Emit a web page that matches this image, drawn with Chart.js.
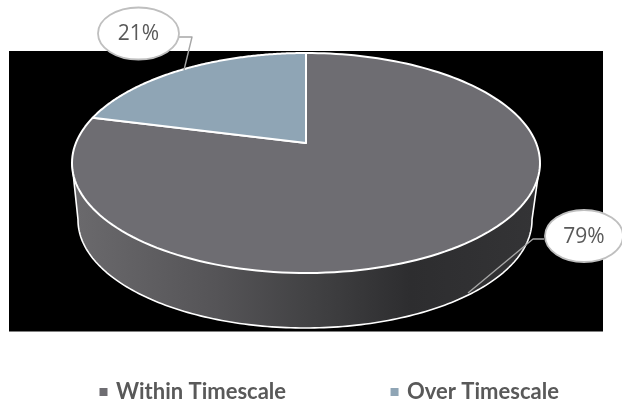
<!DOCTYPE html>
<html>
<head>
<meta charset="utf-8">
<title>Timescale</title>
<script src="https://cdn.jsdelivr.net/npm/chart.js@4"></script>
<style>
    html, body { margin: 0; padding: 0; background: #fff; overflow: hidden; }
    canvas { display: block; }
</style>
</head>
<body>
<canvas id="timescaleChart" width="622" height="401"></canvas>
<script>
const categories = ["Within Timescale", "Over Timescale"];
const percentages = [79, 21];
const sliceColors = ["#6e6d72", "#8fa5b5"];

// Disc outlines in canvas pixels. "mid" is where the disc centre lands, which
// is not halfway down because the pie is seen in perspective.
const topDisc = { cx: 306, top: 53, mid: 143, bottom: 273, halfWidth: 234 };
const bottomDisc = { cx: 305, top: 112, mid: 200, bottom: 328, halfWidth: 227 };

// Callout bubble and its leader line for each slice
const callouts = [
    { x: 584, y: 236, rx: 39, ry: 26, leader: [[544, 239], [533, 239], [468, 293]] },
    { x: 138.5, y: 33.5, rx: 40.5, ry: 26, leader: [[179, 37], [192, 37], [184, 70]] }
];

// Builds a function that takes a point on the unit circle to the canvas
function makeProjection(disc) {
    const c = (2 * disc.mid - disc.top - disc.bottom) / (disc.bottom - disc.top);
    const a = disc.bottom * (1 + c) - disc.mid;
    const k = disc.halfWidth * Math.sqrt(1 - c * c);
    return (angle) => {
        const u = Math.cos(angle);
        const v = Math.sin(angle);
        const w = c * v + 1;
        return { x: disc.cx + k * u / w, y: (a * v + disc.mid) / w };
    };
}

const projectTop = makeProjection(topDisc);
const projectBottom = makeProjection(bottomDisc);
const centre = { x: topDisc.cx, y: topDisc.mid };

// Angles where the silhouette of the disc turns, the wall only shows between them
const tilt = (topDisc.top + topDisc.bottom - 2 * topDisc.mid) / (topDisc.bottom - topDisc.top);
const wallFrom = Math.asin(tilt);
const wallTo = Math.PI - wallFrom;

function traceArc(ctx, project, from, to, moveFirst) {
    const steps = 160;
    for (let i = 0; i <= steps; i++) {
        const p = project(from + (to - from) * i / steps);
        if (i === 0 && moveFirst) ctx.moveTo(p.x, p.y);
        else ctx.lineTo(p.x, p.y);
    }
}

function drawWall(ctx, start, end) {
    const from = Math.max(start, wallFrom);
    const to = Math.min(end, wallTo);
    if (to <= from) return;

    const gradient = ctx.createLinearGradient(78, 0, 540, 0);
    gradient.addColorStop(0, "#6a696c");
    gradient.addColorStop(0.3, "#555457");
    gradient.addColorStop(0.5, "#424244");
    gradient.addColorStop(0.72, "#2d2d2f");
    gradient.addColorStop(1, "#343436");

    ctx.beginPath();
    traceArc(ctx, projectTop, from, to, true);
    traceArc(ctx, projectBottom, to, from, false);
    ctx.closePath();
    ctx.fillStyle = gradient;
    ctx.fill();
}

function drawSlice(ctx, from, to, color) {
    ctx.beginPath();
    ctx.moveTo(centre.x, centre.y);
    traceArc(ctx, projectTop, from, to, false);
    ctx.closePath();
    ctx.fillStyle = color;
    ctx.fill();
    ctx.strokeStyle = "#fff";
    ctx.lineWidth = 2;
    ctx.lineJoin = "round";
    ctx.stroke();
}

function drawCallout(ctx, callout, text) {
    ctx.beginPath();
    callout.leader.forEach(([x, y], i) => i === 0 ? ctx.moveTo(x, y) : ctx.lineTo(x, y));
    ctx.strokeStyle = "#a6a6a6";
    ctx.lineWidth = 1.4;
    ctx.stroke();

    ctx.beginPath();
    ctx.ellipse(callout.x, callout.y, callout.rx, callout.ry, 0, 0, Math.PI * 2);
    ctx.fillStyle = "#fff";
    ctx.fill();
    ctx.strokeStyle = "#bfbfbf";
    ctx.lineWidth = 1.8;
    ctx.stroke();

    ctx.fillStyle = "#595959";
    ctx.font = '21px "Open Sans"';
    ctx.textAlign = "center";
    ctx.textBaseline = "middle";
    ctx.fillText(text, callout.x, callout.y + 1);
}

// Replaces the flat pie drawing, using the angles Chart.js worked out for each arc
const perspectivePie = {
    id: "perspectivePie",
    afterLayout(chart) {
        // keep both legend items on one row, the wide gap would wrap them otherwise
        const padding = chart.options.plugins.legend.labels.padding;
        chart.legend.top = 381 - padding;
        chart.legend.left = 102 - padding;
        chart.legend.right = 2000;
    },
    beforeDatasetsDraw(chart) {
        const ctx = chart.ctx;
        const arcs = chart.getDatasetMeta(0).data;

        ctx.save();
        ctx.fillStyle = "#000";
        ctx.fillRect(9, 51, 594, 280.5);

        arcs.forEach(arc => drawWall(ctx, arc.startAngle, arc.endAngle));

        // Outline around the wall, down one side, along the lower disc, up the other
        ctx.beginPath();
        traceArc(ctx, projectTop, wallFrom, wallFrom, true);
        traceArc(ctx, projectBottom, wallFrom, wallTo, false);
        traceArc(ctx, projectTop, wallTo, wallTo, false);
        ctx.strokeStyle = "#fff";
        ctx.lineWidth = 1.6;
        ctx.stroke();

        arcs.forEach((arc, i) => drawSlice(ctx, arc.startAngle, arc.endAngle, sliceColors[i]));
        callouts.forEach((callout, i) => drawCallout(ctx, callout, percentages[i] + "%"));
        ctx.restore();
        return false;
    }
};

new Chart(document.getElementById("timescaleChart"), {
    type: "pie",
    data: {
        labels: categories,
        datasets: [{
            data: percentages,
            backgroundColor: sliceColors,
            // only the legend squares use this border, it tightens their gap to the text
            borderColor: sliceColors,
            borderWidth: 5
        }]
    },
    options: {
        responsive: false,
        animation: false,
        events: [],
        plugins: {
            tooltip: { enabled: false },
            legend: {
                position: "bottom",
                align: "start",
                labels: {
                    boxWidth: 3,
                    boxHeight: 3,
                    padding: 107,
                    color: "#595959",
                    font: { family: "Lato", size: 22, weight: "bold" }
                }
            }
        }
    },
    plugins: [perspectivePie]
});
</script>
</body>
</html>
